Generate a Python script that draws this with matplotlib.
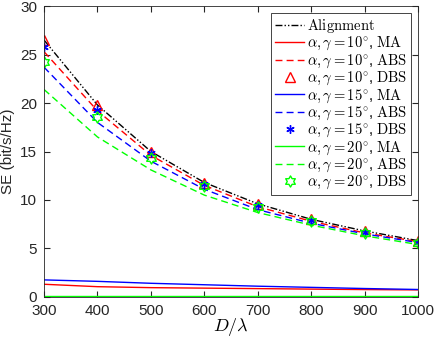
import matplotlib.pyplot as plt
from matplotlib.path import Path
import numpy as np

plt.rcParams['font.family'] = ['Liberation Sans', 'DejaVu Sans']
plt.rcParams['mathtext.fontset'] = 'cm'

# Datos
D = [300, 400, 500, 600, 700, 800, 900, 1000]
alineacion = [26.5, 19.8, 15.0, 11.8, 9.6, 8.0, 6.8, 5.8]

ma_10 = [1.3, 1.05, 0.95, 0.9, 0.85, 0.8, 0.75, 0.72]
ma_15 = [1.75, 1.6, 1.4, 1.25, 1.1, 0.98, 0.86, 0.76]
ma_20 = [0.08, 0.08, 0.08, 0.08, 0.08, 0.08, 0.08, 0.08]

abs_10 = [25.3, 19.2, 14.6, 11.5, 9.3, 7.8, 6.6, 5.7]
abs_15 = [23.7, 18.0, 14.0, 11.1, 9.0, 7.6, 6.5, 5.6]
abs_20 = [21.4, 16.5, 13.1, 10.5, 8.7, 7.4, 6.3, 5.4]

dbs_10 = [26.5, 19.8, 15.0, 11.8, 9.6, 8.0, 6.8, 5.8]
dbs_15 = [25.8, 19.3, 14.8, 11.6, 9.5, 7.9, 6.7, 5.7]
dbs_20 = [24.2, 18.6, 14.3, 11.4, 9.3, 7.8, 6.6, 5.6]

# Marcador hexagrama (estrella de seis puntas, contorno)
ang = np.pi / 2 + np.arange(12) * np.pi / 6
rad = np.where(np.arange(12) % 2 == 0, 1.0, 0.58)
verts = np.column_stack([rad * np.cos(ang), rad * np.sin(ang)])
verts = np.vstack([verts, verts[:1]])
hexagrama = Path(verts, [Path.MOVETO] + [Path.LINETO] * 11 + [Path.CLOSEPOLY])

fig = plt.figure(figsize=(4.36, 3.42), dpi=100)
ax = fig.add_axes([0.101, 0.132, 0.858, 0.850])

ax.plot(D, alineacion, color='black', linestyle=(0, (5, 1.5, 1, 1.5, 1, 1.5)), lw=1.0,
        label=r'$\mathrm{Alignment}$')

colores = ['red', 'blue', 'lime']
angulos = [10, 15, 20]
series_ma = [ma_10, ma_15, ma_20]
series_abs = [abs_10, abs_15, abs_20]
series_dbs = [dbs_10, dbs_15, dbs_20]
marcadores = ['^', '*', 'h']

for c, a, ma, ab, db, m in zip(colores, angulos, series_ma, series_abs, series_dbs, marcadores):
    ax.plot(D, ma, color=c, lw=1.0, label=r'$\alpha,\gamma=%d^{\circ}$, $\mathrm{MA}$' % a)
    ax.plot(D, ab, color=c, lw=1.0, linestyle=(0, (5, 3)),
            label=r'$\alpha,\gamma=%d^{\circ}$, $\mathrm{ABS}$' % a)
    etiqueta = r'$\alpha,\gamma=%d^{\circ}$, $\mathrm{DBS}$' % a
    if m == '^':
        ax.plot(D, db, linestyle='none', marker=m, markersize=7, markerfacecolor='none',
                markeredgecolor=c, markeredgewidth=1.0, label=etiqueta)
    elif m == '*':
        ax.plot(D, db, linestyle='none', marker=(6, 2, 0), markersize=6,
                markeredgecolor=c, markeredgewidth=1.0, label=etiqueta)
    else:
        ax.plot(D, db, linestyle='none', marker=hexagrama, markersize=8,
                markerfacecolor='none', markeredgecolor=c, markeredgewidth=1.0,
                label=etiqueta)

ax.set_xlim(300, 1000)
ax.set_ylim(0, 30)
ax.set_xticks(range(300, 1001, 100))
ax.set_yticks(range(0, 31, 5))
ax.tick_params(direction='in', top=True, right=True, labelsize=11, length=4,
               color='0.15', labelcolor='0.15')
ax.tick_params(axis='y', pad=5)
ax.tick_params(axis='x', pad=5)
for s in ax.spines.values():
    s.set_color('0.15')
    s.set_linewidth(0.6)

ax.set_xlabel(r'$D/\lambda$', fontsize=13, labelpad=-1)
ax.set_ylabel('SE (bit/s/Hz)', fontsize=11, color='0.15')

leg = ax.legend(loc='upper right', fontsize=10.5, handlelength=2.0, handletextpad=0.2,
                labelspacing=0.0, borderpad=0.25, fancybox=False, framealpha=1,
                edgecolor='0.15', borderaxespad=0.5)
leg.get_frame().set_linewidth(0.6)

fig.savefig('out.png', dpi=100)
